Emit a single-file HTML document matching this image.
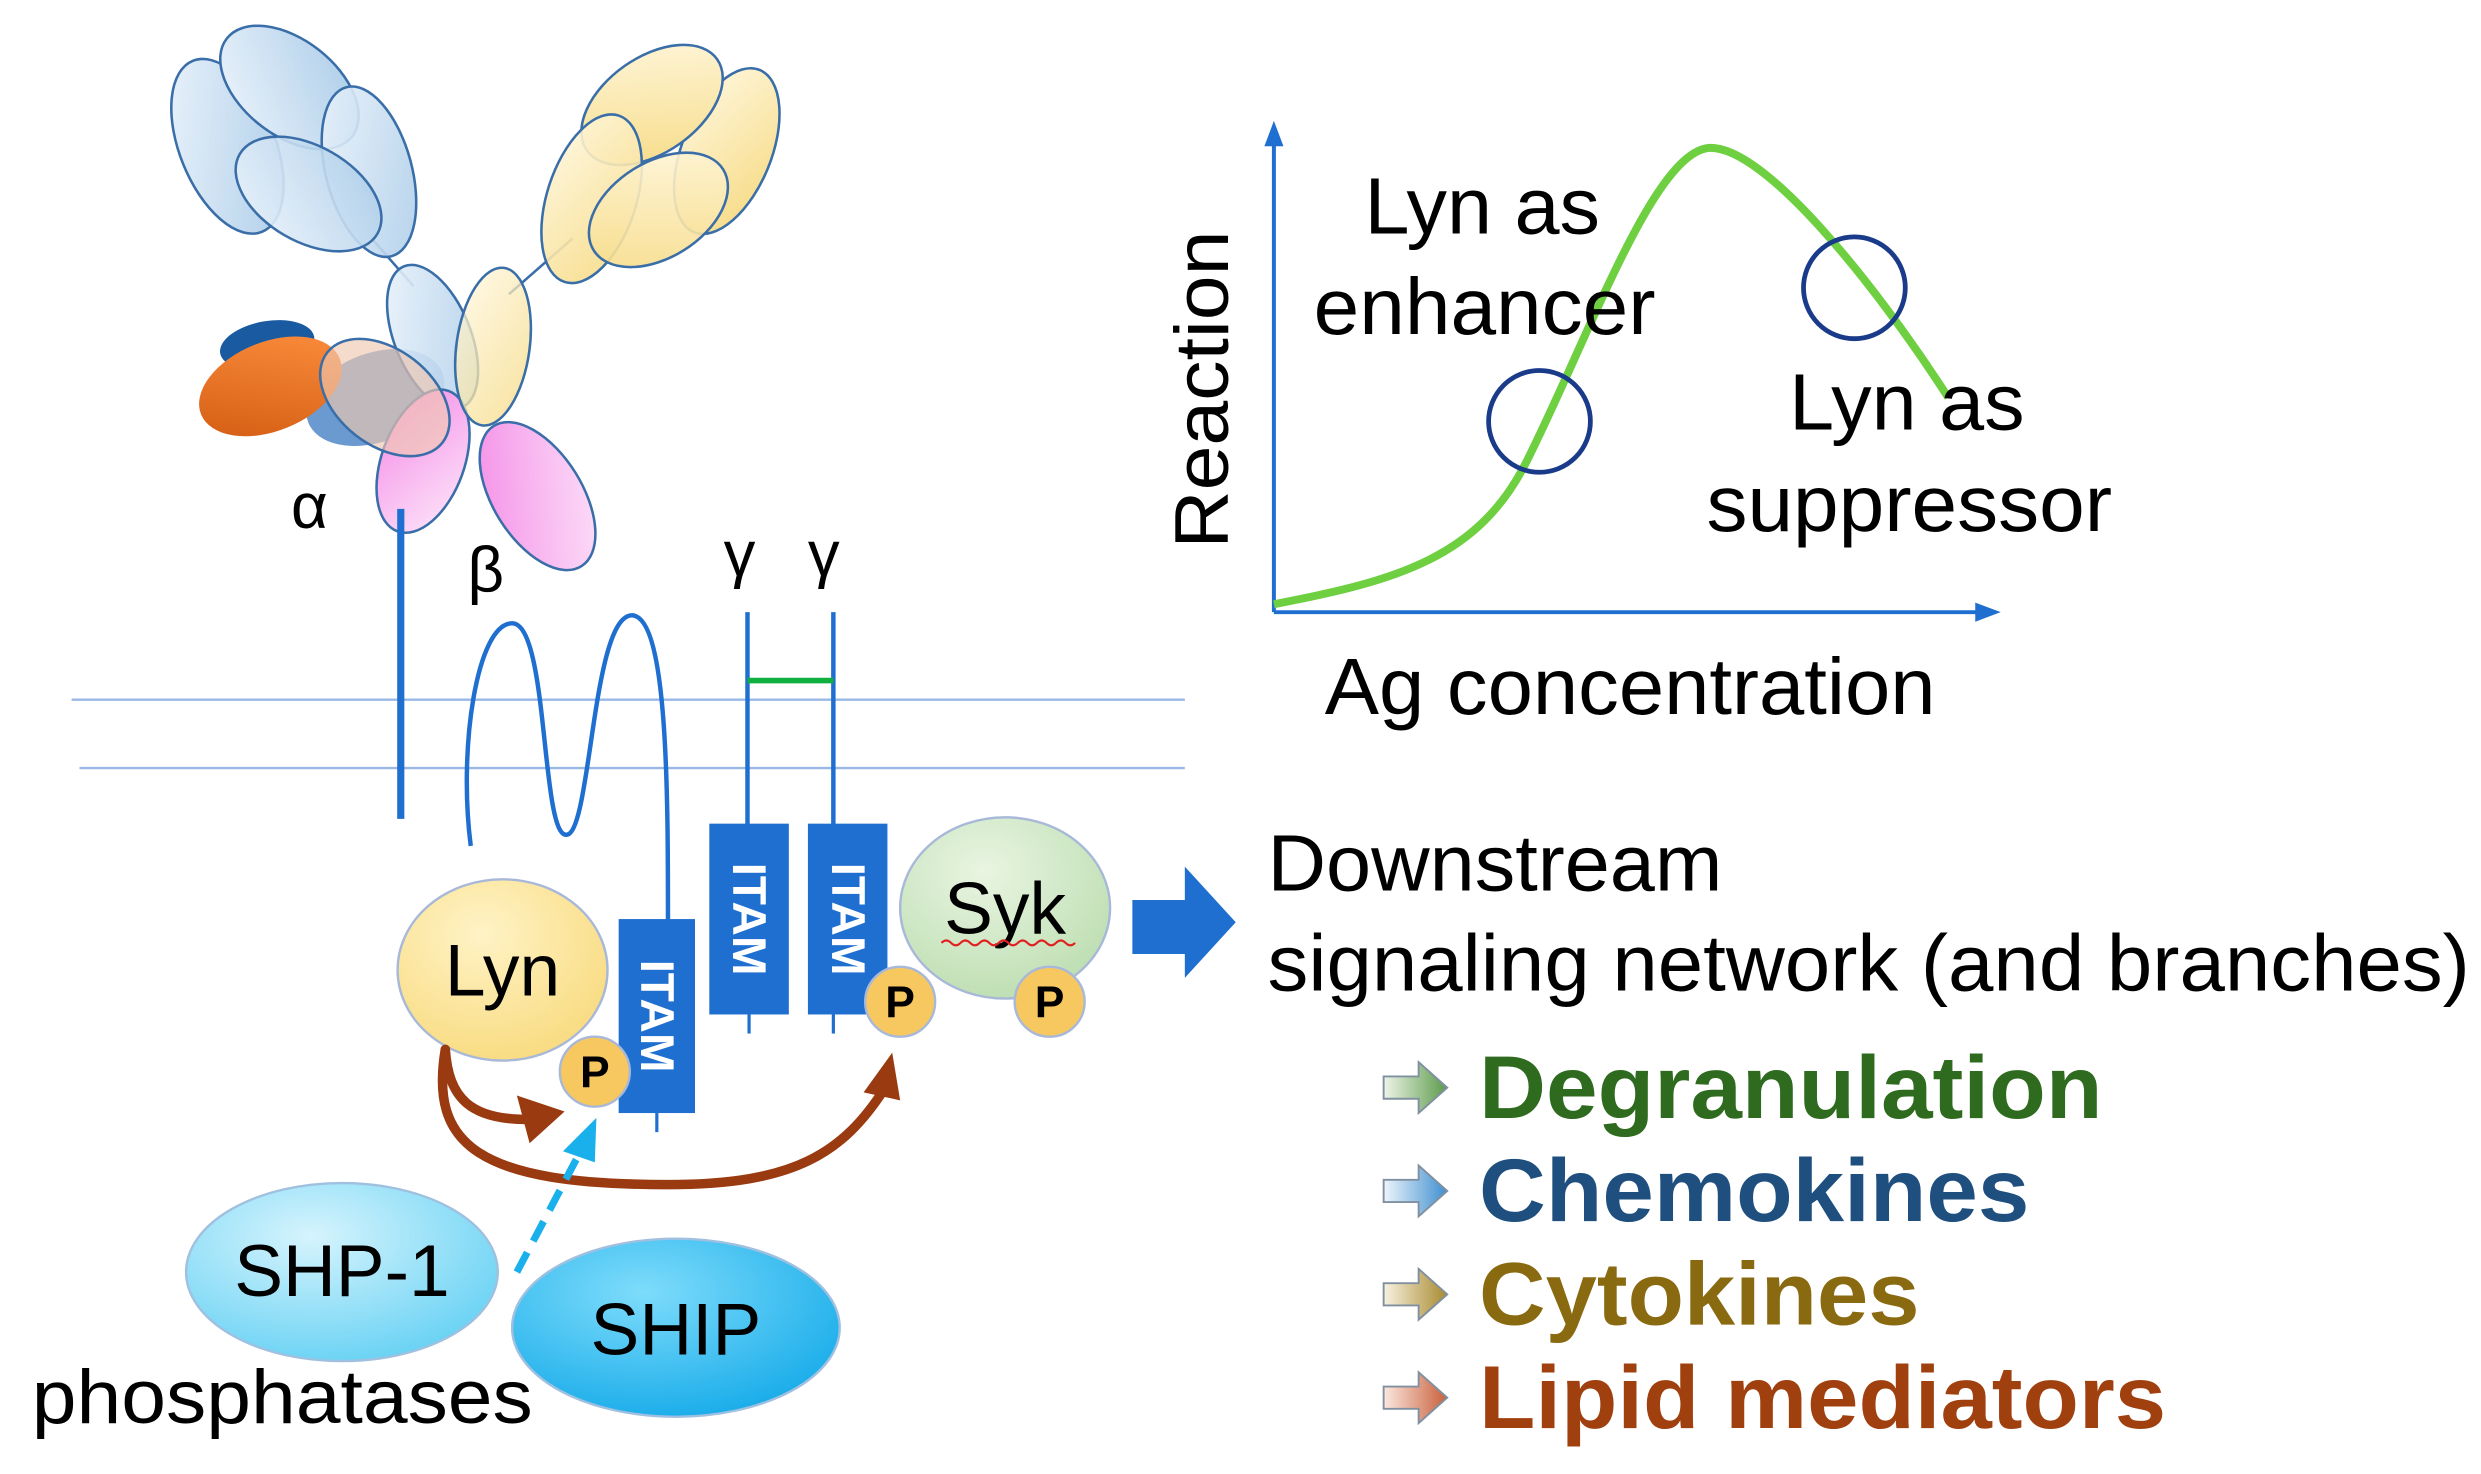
<!DOCTYPE html>
<html><head><meta charset="utf-8"><style>html,body{margin:0;padding:0;background:#fff}svg{display:block}</style></head>
<body>
<svg width="2481" height="1474" viewBox="0 0 1560 927" preserveAspectRatio="none" xmlns="http://www.w3.org/2000/svg" font-family="Liberation Sans, sans-serif">
<defs>
<linearGradient id="gb" x1="0" y1="0" x2="1" y2="1"><stop offset="0" stop-color="#eef5fc"/><stop offset="1" stop-color="#a9cbe8"/></linearGradient>
<linearGradient id="gy" x1="0" y1="0" x2="1" y2="1"><stop offset="0" stop-color="#fff8e0"/><stop offset="1" stop-color="#f6d980"/></linearGradient>
<linearGradient id="gp" x1="0" y1="0" x2="1" y2="1"><stop offset="0" stop-color="#f48ae6"/><stop offset="1" stop-color="#fde6fa"/></linearGradient>
<linearGradient id="go" x1="1" y1="0" x2="0" y2="1"><stop offset="0" stop-color="#ff9040"/><stop offset="1" stop-color="#d05a10"/></linearGradient>
<radialGradient id="glyn" cx="0.4" cy="0.3" r="0.8"><stop offset="0" stop-color="#fff3c6"/><stop offset="1" stop-color="#f8d97a"/></radialGradient>
<radialGradient id="gsyk" cx="0.4" cy="0.3" r="0.8"><stop offset="0" stop-color="#e9f5e2"/><stop offset="1" stop-color="#b9dcad"/></radialGradient>
<radialGradient id="gshp" cx="0.4" cy="0.3" r="0.8"><stop offset="0" stop-color="#d6f4fd"/><stop offset="1" stop-color="#5fcff3"/></radialGradient>
<radialGradient id="gship" cx="0.4" cy="0.3" r="0.8"><stop offset="0" stop-color="#7edcfb"/><stop offset="1" stop-color="#10a8e8"/></radialGradient>
<linearGradient id="a1" x1="0" x2="1"><stop offset="0" stop-color="#eef5e8"/><stop offset="1" stop-color="#5c9a4a"/></linearGradient>
<linearGradient id="a2" x1="0" x2="1"><stop offset="0" stop-color="#eef5fc"/><stop offset="1" stop-color="#3f8fd0"/></linearGradient>
<linearGradient id="a3" x1="0" x2="1"><stop offset="0" stop-color="#f8f2e0"/><stop offset="1" stop-color="#a88a30"/></linearGradient>
<linearGradient id="a4" x1="0" x2="1"><stop offset="0" stop-color="#fbe8e0"/><stop offset="1" stop-color="#c8603a"/></linearGradient>
</defs>

<line x1="45" y1="440" x2="745" y2="440" stroke="#9ab8e6" stroke-width="1.5"/>
<line x1="50" y1="483" x2="745" y2="483" stroke="#9ab8e6" stroke-width="1.5"/>

<g stroke="#3a6ea8" stroke-width="1.6">
<line x1="232" y1="148" x2="260" y2="180"/><line x1="360" y1="150" x2="320" y2="185"/>
<ellipse cx="143" cy="92" rx="30" ry="58" transform="rotate(-22 143 92)" fill="url(#gb)"/>
<ellipse cx="182" cy="55" rx="30" ry="50" transform="rotate(-52 182 55)" fill="url(#gb)"/>
<ellipse cx="232" cy="108" rx="27" ry="55" transform="rotate(-15 232 108)" fill="url(#gb)" fill-opacity="0.9"/>
<ellipse cx="194" cy="122" rx="30" ry="50" transform="rotate(-60 194 122)" fill="url(#gb)" fill-opacity="0.9"/>
<ellipse cx="457" cy="95" rx="28" ry="55" transform="rotate(22 457 95)" fill="url(#gy)"/>
<ellipse cx="410" cy="66" rx="30" ry="50" transform="rotate(55 410 66)" fill="url(#gy)"/>
<ellipse cx="372" cy="125" rx="28" ry="55" transform="rotate(18 372 125)" fill="url(#gy)" fill-opacity="0.9"/>
<ellipse cx="414" cy="132" rx="30" ry="48" transform="rotate(58 414 132)" fill="url(#gy)" fill-opacity="0.9"/>
<ellipse cx="168" cy="217" rx="30" ry="15" transform="rotate(-10 168 217)" fill="#1a5aa0" stroke="none"/>
<ellipse cx="236" cy="250" rx="45" ry="28" transform="rotate(-20 236 250)" fill="#6a9ad0" stroke="none"/>
<ellipse cx="170" cy="243" rx="47" ry="28" transform="rotate(-22 170 243)" fill="url(#go)" stroke="none"/>
<ellipse cx="272" cy="212" rx="24" ry="48" transform="rotate(-22 272 212)" fill="url(#gb)" fill-opacity="0.9"/>
<ellipse cx="266" cy="290" rx="26" ry="47" transform="rotate(20 266 290)" fill="url(#gp)"/>
<ellipse cx="338" cy="312" rx="28" ry="52" transform="rotate(-32 338 312)" fill="url(#gp)"/>
<ellipse cx="242" cy="250" rx="46" ry="30" transform="rotate(38 242 250)" fill="#f0c8b0" fill-opacity="0.65"/>
<ellipse cx="310" cy="218" rx="23" ry="50" transform="rotate(8 310 218)" fill="url(#gy)" fill-opacity="0.75"/>
</g>

<line x1="252" y1="320" x2="252" y2="515" stroke="#1f6fd0" stroke-width="4.5"/>
<text x="183" y="332" font-size="40">α</text>
<text x="294" y="372" font-size="40">β</text>
<text x="455" y="362" font-size="40">γ</text>
<text x="508" y="362" font-size="40">γ</text>
<path d="M296,532 C288,470 300,392 322,392 C345,392 340,525 356,525 C372,525 372,385 398,387 C420,390 420,500 420,580" fill="none" stroke="#1f6fd0" stroke-width="2.8"/>
<line x1="470" y1="385" x2="470" y2="520" stroke="#1f6fd0" stroke-width="2.8"/>
<line x1="524" y1="385" x2="524" y2="520" stroke="#1f6fd0" stroke-width="2.8"/>
<line x1="470" y1="428" x2="524" y2="428" stroke="#10b040" stroke-width="3.5"/>

<g fill="#1f6fd0"><rect x="389" y="578" width="48" height="122"/><rect x="446" y="518" width="50" height="120"/><rect x="508" y="518" width="50" height="120"/></g>
<g stroke="#1f6fd0" stroke-width="2"><line x1="413" y1="700" x2="413" y2="712"/><line x1="471" y1="638" x2="471" y2="650"/><line x1="524" y1="638" x2="524" y2="650"/></g>
<g fill="#fff" font-weight="bold" font-size="30" text-anchor="middle">
<text transform="translate(403,639) rotate(90)">ITAM</text>
<text transform="translate(461,578) rotate(90)">ITAM</text>
<text transform="translate(523,578) rotate(90)">ITAM</text>
</g>

<ellipse cx="316" cy="610" rx="66" ry="57" fill="url(#glyn)" stroke="#a8b8d8" stroke-width="1.5"/>
<text x="316" y="626" font-size="46" text-anchor="middle">Lyn</text>
<ellipse cx="632" cy="571" rx="66" ry="57" fill="url(#gsyk)" stroke="#a8b8d8" stroke-width="1.5"/>
<text x="632" y="587" font-size="46" text-anchor="middle">Syk</text>
<path d="M592,593 q3,-3 6,0 t6,0 t6,0 t6,0 t6,0 t6,0 t6,0 t6,0 t6,0 t6,0 t6,0 t6,0 t6,0 t6,0" fill="none" stroke="#e02020" stroke-width="1.3"/>
<g fill="#f8c860" stroke="#a8b8d8" stroke-width="1.5"><circle cx="374" cy="674" r="22"/><circle cx="566" cy="630" r="22"/><circle cx="660" cy="630" r="22"/></g>
<g font-size="28" font-weight="bold" text-anchor="middle"><text x="374" y="684">P</text><text x="566" y="640">P</text><text x="660" y="640">P</text></g>

<path d="M712,566 L745,566 L745,545 L777,580 L745,615 L745,600 L712,600z" fill="#1f6fd0"/>

<g fill="none" stroke="#9a3a10" stroke-width="6" stroke-linecap="round">
<path d="M280,660 C282,690 295,705 335,704"/>
<path d="M280,660 C270,720 300,745 420,745 C500,745 530,725 556,685"/>
</g>
<path d="M355,699 L325,689 L333,719z" fill="#9a3a10"/>
<path d="M561,662 L543,687 L566,692z" fill="#9a3a10"/>
<line x1="325" y1="800" x2="364" y2="726" stroke="#1ab0ec" stroke-width="4.5" stroke-dasharray="14,8"/>
<path d="M375,703 L354,724 L374,731z" fill="#1ab0ec"/>

<ellipse cx="215" cy="800" rx="98" ry="56" fill="url(#gshp)" stroke="#a0c0e0" stroke-width="1.5"/>
<text x="215" y="815" font-size="46" text-anchor="middle">SHP-1</text>
<ellipse cx="425" cy="835" rx="103" ry="56" fill="url(#gship)" stroke="#a0c0e0" stroke-width="1.5"/>
<text x="425" y="852" font-size="46" text-anchor="middle">SHIP</text>
<text x="20" y="895" font-size="48" textLength="315" lengthAdjust="spacingAndGlyphs">phosphatases</text>

<line x1="801" y1="385" x2="801" y2="88" stroke="#1f6fd0" stroke-width="2.5"/>
<path d="M801,76 L795,92 L807,92z" fill="#1f6fd0"/>
<line x1="801" y1="385" x2="1245" y2="385" stroke="#1f6fd0" stroke-width="2.5"/>
<path d="M1258,385 L1242,379 L1242,391z" fill="#1f6fd0"/>
<path d="M801,380 C880,365 930,350 960,290 C1000,210 1040,95 1075,93 C1110,92 1180,180 1225,250" fill="none" stroke="#6ed040" stroke-width="5"/>
<circle cx="968" cy="265" r="32" fill="none" stroke="#1a3b8a" stroke-width="3"/>
<circle cx="1166" cy="181" r="32" fill="none" stroke="#1a3b8a" stroke-width="3"/>
<text transform="translate(772,245) rotate(-90)" font-size="48" text-anchor="middle" textLength="200" lengthAdjust="spacingAndGlyphs">Reaction</text>
<g font-size="50">
<text x="858" y="147" textLength="148" lengthAdjust="spacingAndGlyphs">Lyn as</text>
<text x="826" y="210" textLength="215" lengthAdjust="spacingAndGlyphs">enhancer</text>
<text x="1125" y="270" textLength="148" lengthAdjust="spacingAndGlyphs">Lyn as</text>
<text x="1073" y="334" textLength="255" lengthAdjust="spacingAndGlyphs">suppressor</text>
<text x="833" y="449" textLength="384" lengthAdjust="spacingAndGlyphs">Ag concentration</text>
<text x="797" y="560" textLength="286" lengthAdjust="spacingAndGlyphs">Downstream</text>
<text x="797" y="623" textLength="756" lengthAdjust="spacingAndGlyphs">signaling network (and branches)</text>
</g>

<g stroke="#8090a0" stroke-width="1.2">
<path d="M870,677 L892,677 L892,668 L910,684 L892,700 L892,691 L870,691z" fill="url(#a1)"/>
<path d="M870,742 L892,742 L892,733 L910,749 L892,765 L892,756 L870,756z" fill="url(#a2)"/>
<path d="M870,807 L892,807 L892,798 L910,814 L892,830 L892,821 L870,821z" fill="url(#a3)"/>
<path d="M870,872 L892,872 L892,863 L910,879 L892,895 L892,886 L870,886z" fill="url(#a4)"/>
</g>
<g font-size="56" font-weight="bold">
<text x="930" y="703" fill="#2e6b1f" textLength="392" lengthAdjust="spacingAndGlyphs">Degranulation</text>
<text x="930" y="768" fill="#1e4f7f" textLength="346" lengthAdjust="spacingAndGlyphs">Chemokines</text>
<text x="930" y="833" fill="#8a6a10" textLength="277" lengthAdjust="spacingAndGlyphs">Cytokines</text>
<text x="930" y="898" fill="#a0400f" textLength="432" lengthAdjust="spacingAndGlyphs">Lipid mediators</text>
</g>
</svg>
</body></html>
